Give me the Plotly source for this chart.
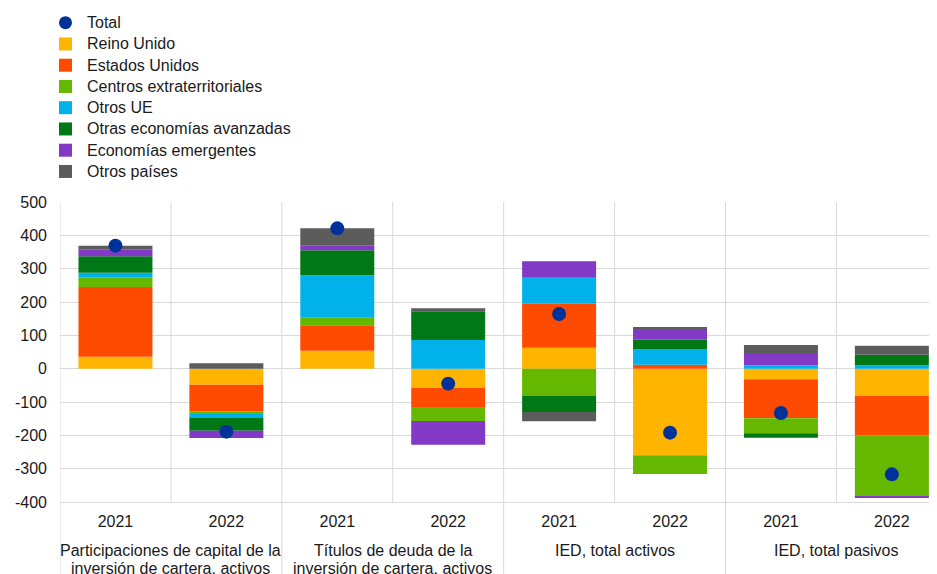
import plotly.graph_objects as go

years = ["2021", "2022", "2021", "2022", "2021", "2022", "2021", "2022"]
group_line1 = ["Participaciones de capital de la", "Títulos de deuda de la", "IED, total activos", "IED, total pasivos"]
group_line2 = ["inversión de cartera, activos", "inversión de cartera, activos", "", ""]
y_ticks = [500, 400, 300, 200, 100, 0, -100, -200, -300, -400]
y_tick_labels = ["500", "400", "300", "200", "100", "0", "-100", "-200", "-300", "-400"]

total = [369, -189, 421, -45, 164, -192, -133, -317]
reino_unido = [36, -48, 54, -58, 63, -260, -32, -81]
estados_unidos = [209, -80, 76, -57, 132, 12, -117, -119]
centros = [29, -8, 23, -42, -82, -56, -45, -184]
otros_ue = [14, -12, 127, 86, 78, 47, 10, 10]
otras_avanzadas = [49, -38, 75, 86, -48, 28, -13, 32]
emergentes = [20, -22, 15, -71, 49, 33, 34, -2]
otros_paises = [12, 16, 51, 9, -28, 5, 27, 27]

series = [
    ("Reino Unido", reino_unido, "#FFB400"),
    ("Estados Unidos", estados_unidos, "#FF4B00"),
    ("Centros extraterritoriales", centros, "#65B800"),
    ("Otros UE", otros_ue, "#00B1EA"),
    ("Otras economías avanzadas", otras_avanzadas, "#007816"),
    ("Economías emergentes", emergentes, "#8139C6"),
    ("Otros países", otros_paises, "#5C5C5C"),
]
TOTAL_COLOR = "#003299"

xpos = list(range(len(years)))
FONT = "Arial, Liberation Sans, sans-serif"
GRID = "#d9d9d9"
TXT = "#1a1a1a"

# figure geometry (page adds an 8px body margin)
W, H = 937, 574
ML, MR, MT, MB = 52, 8, 194, 80
PW, PH = W - ML - MR, H - MT - MB


def px_x(px):
    return (px - ML) / PW


def px_y(py):
    return (H - MB - py) / PH


fig = go.Figure()
fig.add_trace(go.Scatter(x=xpos, y=total, mode="markers", name="Total", showlegend=False,
                         marker=dict(color=TOTAL_COLOR, size=14), cliponaxis=False))
for name, vals, col in series:
    fig.add_trace(go.Bar(x=xpos, y=vals, name=name, width=0.667, showlegend=False,
                         marker=dict(color=col, line=dict(width=0))))

shapes = []
for i in range(8):
    shapes.append(dict(type="line", xref="x", yref="y", x0=i - 0.5, x1=i - 0.5, y0=-400, y1=500,
                       line=dict(color=GRID, width=1), layer="below"))
for g in range(4):
    shapes.append(dict(type="line", xref="x", yref="paper", x0=2 * g - 0.5, x1=2 * g - 0.5, y0=-0.3, y1=0,
                       line=dict(color=GRID, width=1), layer="below"))

annotations = []
for g in range(4):
    annotations.append(dict(x=2 * g + 0.5, xref="x", y=0, yref="paper", yanchor="middle",
                            yshift=-48.5, text=group_line1[g], showarrow=False,
                            font=dict(size=16, color=TXT, family=FONT)))
    if group_line2[g]:
        annotations.append(dict(x=2 * g + 0.5, xref="x", y=0, yref="paper", yanchor="middle",
                                yshift=-66, text=group_line2[g], showarrow=False,
                                font=dict(size=16, color=TXT, family=FONT)))

# manual legend
legend_items = [("Total", TOTAL_COLOR, "circle")] + [(n, c, "rect") for n, _, c in series]
LEG_X, LEG_TX, LEG_Y0, LEG_STEP, HALF = 57.5, 76.5, 14.7, 21.25, 6.5
for k, (name, col, kind) in enumerate(legend_items):
    cy = LEG_Y0 + k * LEG_STEP
    shapes.append(dict(type=kind, xref="paper", yref="paper",
                       x0=px_x(LEG_X - HALF), x1=px_x(LEG_X + HALF),
                       y0=px_y(cy + HALF), y1=px_y(cy - HALF),
                       fillcolor=col, line=dict(width=0)))
    annotations.append(dict(x=px_x(LEG_TX), y=px_y(cy), xref="paper", yref="paper",
                            xanchor="left", yanchor="middle", text=name, showarrow=False,
                            font=dict(size=16, color=TXT, family=FONT)))

fig.update_layout(
    width=W, height=H,
    margin=dict(l=ML, r=MR, t=MT, b=MB, autoexpand=False),
    barmode="relative",
    paper_bgcolor="white", plot_bgcolor="white",
    font=dict(family=FONT, size=16, color=TXT),
    showlegend=False,
    xaxis=dict(range=[-0.5, 7.407], tickmode="array", tickvals=xpos, ticktext=years,
               showgrid=False, zeroline=False, showline=True, linecolor=GRID, linewidth=1,
               ticks="", ticklabelstandoff=5,
               tickfont=dict(size=16, family=FONT, color=TXT), fixedrange=True),
    yaxis=dict(range=[-400, 500], tickmode="array", tickvals=y_ticks, ticktext=y_tick_labels,
               showgrid=True, gridcolor=GRID, gridwidth=1,
               zeroline=True, zerolinecolor=GRID, zerolinewidth=1, ticks="",
               tickfont=dict(size=16, family=FONT, color=TXT), ticklabelstandoff=12,
               fixedrange=True),
    shapes=shapes,
    annotations=annotations,
)

fig.write_html("out.html")
